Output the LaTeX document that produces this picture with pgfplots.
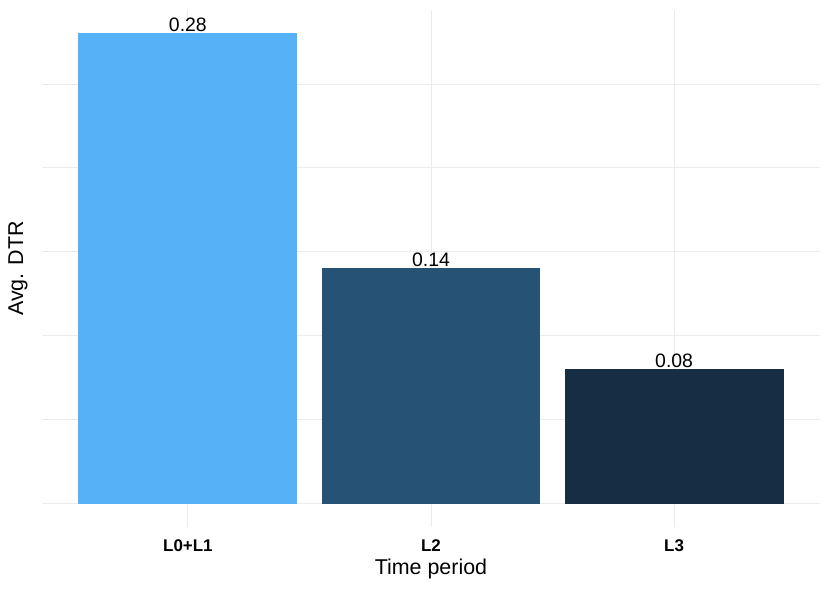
\documentclass[border=0pt]{standalone}
\usepackage{fontspec}
\setmainfont{Liberation Sans}
\usepackage{pgfplots}
\pgfplotsset{compat=1.18}
\definecolor{cA}{HTML}{56B1F7}
\definecolor{cB}{HTML}{265276}
\definecolor{cC}{HTML}{172D44}
\definecolor{gridc}{HTML}{EBEBEB}
\begin{document}
\begin{tikzpicture}
\begin{axis}[
  scale only axis,
  width=778bp, height=517bp,
  xmin=0.4, xmax=3.6,
  ymin=-0.014, ymax=0.294,
  xtick={1,2,3},
  xticklabels={L0+L1,L2,L3},
  ytick={0,0.1,0.2},
  minor ytick={0.05,0.15,0.25},
  yticklabels={},
  xmajorgrids, ymajorgrids, yminorgrids,
  major grid style={draw=gridc, line width=1bp},
  minor grid style={draw=gridc, line width=0.7bp},
  axis line style={draw=none},
  tick style={draw=none},
  xticklabel style={font=\bfseries\fontsize{17}{17}\selectfont, anchor=center, yshift=-14bp},
  xlabel={Time period},
  ylabel={Avg. DTR},
  xlabel style={font=\fontsize{21.5}{21.5}\selectfont, at={(rel axis cs:0.5,-0.081)}, anchor=center},
  ylabel style={font=\fontsize{21.5}{21.5}\selectfont, at={(rel axis cs:-0.0308,0.5)}, anchor=center},
  ybar, bar width=0.9, bar shift=0pt,
  point meta=explicit symbolic,
  nodes near coords,
  nodes near coords style={font=\fontsize{19.5}{19.5}\selectfont, anchor=south, inner sep=1.5bp, text=black},
]
\addplot[fill=cA, draw=none] coordinates {(1,0.28) [0.28]};
\addplot[fill=cB, draw=none] coordinates {(2,0.14) [0.14]};
\addplot[fill=cC, draw=none] coordinates {(3,0.08) [0.08]};
\end{axis}
\path (current axis.south west) ++(-42bp,-62bp) coordinate (bl);
\path (current axis.north east) ++(10bp,10bp) coordinate (tr);
\useasboundingbox (bl) rectangle (tr);
\end{tikzpicture}
\end{document}
